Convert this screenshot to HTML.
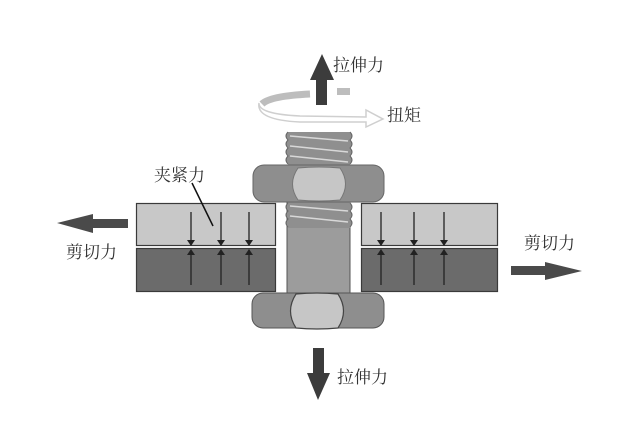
<!DOCTYPE html>
<html><head><meta charset="utf-8"><style>
html,body{margin:0;padding:0;background:#fff;}
svg{display:block;}
text{font-family:"Liberation Serif","Noto Serif CJK SC",serif;fill:#333;font-size:17px;}
</style></head><body>
<svg width="640" height="448" viewBox="0 0 640 448" xmlns="http://www.w3.org/2000/svg">
<defs>
<marker id="ah" markerWidth="6" markerHeight="8" refX="5" refY="4" orient="auto" markerUnits="userSpaceOnUse">
<path d="M0,0 L6,4 L0,8 Z" fill="#222"/>
</marker>
</defs>
<rect width="640" height="448" fill="#fff"/>

<!-- torque back band -->
<path d="M262,104 Q270,96 310,94" stroke="#bdbdbd" stroke-width="7" fill="none"/>
<rect x="337" y="88" width="13" height="7" fill="#bdbdbd"/>

<!-- up arrow -->
<path d="M322,54 L334,80 L327,80 L327,105 L316,105 L316,80 L310,80 Z" fill="#3c3c3c"/>

<!-- torque front band -->
<path d="M259,103 Q258,114 300,116 L366,117 L366,110 L383,119 L366,127 L366,122 L300,122 Q256,120 259,103 Z" fill="#fff" stroke="#cfcfcf" stroke-width="1.5"/>

<!-- threads top -->
<rect x="288" y="132" width="62" height="34" fill="#8f8f8f"/>
<path d="M288,132 q-4,4 0,8 q-4,4 0,8 q-4,4 0,8 q-4,4 0,8" stroke="#666" fill="#8f8f8f"/>
<path d="M350,132 q4,4 0,8 q4,4 0,8 q4,4 0,8 q4,4 0,8" stroke="#666" fill="#8f8f8f"/>
<g stroke="#d8d8d8" stroke-width="1.5">
<line x1="290" y1="136" x2="348" y2="141"/>
<line x1="290" y1="146" x2="348" y2="152"/>
<line x1="290" y1="156" x2="348" y2="162"/>
</g>

<!-- shank -->
<rect x="287" y="200" width="63" height="95" fill="#9c9c9c" stroke="#555" stroke-width="1"/>
<rect x="288" y="202" width="62" height="26" fill="#8f8f8f"/>
<path d="M288,203 q-4,4 0,8 q-4,4 0,8 q-4,4 0,8" stroke="#666" fill="#8f8f8f"/>
<path d="M350,203 q4,4 0,8 q4,4 0,8 q4,4 0,8" stroke="#666" fill="#8f8f8f"/>
<g stroke="#d8d8d8" stroke-width="1.5">
<line x1="290" y1="206" x2="348" y2="211"/>
<line x1="290" y1="216" x2="348" y2="222"/>
</g>

<!-- top nut -->
<rect x="253" y="165" width="131" height="37" rx="11" fill="#8e8e8e" stroke="#666" stroke-width="1"/>
<path d="M298,168 Q319,166 340,168 Q351,184 340,200 Q319,202 298,200 Q287,184 298,168 Z" fill="#c6c6c6" stroke="#777" stroke-width="1"/>

<!-- left plates -->
<rect x="136.5" y="203.5" width="139" height="42" fill="#c8c8c8" stroke="#3a3a3a" stroke-width="1.2"/>
<rect x="136.5" y="248.5" width="139" height="43" fill="#6b6b6b" stroke="#3a3a3a" stroke-width="1.2"/>
<!-- right plates -->
<rect x="361.5" y="203.5" width="136" height="42" fill="#c8c8c8" stroke="#3a3a3a" stroke-width="1.2"/>
<rect x="361.5" y="248.5" width="136" height="43" fill="#6b6b6b" stroke="#3a3a3a" stroke-width="1.2"/>

<!-- clamp arrows -->
<g stroke="#222" stroke-width="1.3">
<line x1="191" y1="212" x2="191" y2="245" marker-end="url(#ah)"/>
<line x1="221" y1="212" x2="221" y2="245" marker-end="url(#ah)"/>
<line x1="249" y1="212" x2="249" y2="245" marker-end="url(#ah)"/>
<line x1="191" y1="285" x2="191" y2="250" marker-end="url(#ah)"/>
<line x1="221" y1="285" x2="221" y2="250" marker-end="url(#ah)"/>
<line x1="249" y1="285" x2="249" y2="250" marker-end="url(#ah)"/>
<line x1="381" y1="212" x2="381" y2="245" marker-end="url(#ah)"/>
<line x1="414" y1="212" x2="414" y2="245" marker-end="url(#ah)"/>
<line x1="444" y1="212" x2="444" y2="245" marker-end="url(#ah)"/>
<line x1="381" y1="285" x2="381" y2="250" marker-end="url(#ah)"/>
<line x1="414" y1="285" x2="414" y2="250" marker-end="url(#ah)"/>
<line x1="444" y1="285" x2="444" y2="250" marker-end="url(#ah)"/>
</g>
<!-- leader -->
<line x1="192" y1="183" x2="213" y2="226" stroke="#111" stroke-width="1.5"/>

<!-- bottom nut -->
<rect x="252" y="293" width="132" height="35" rx="11" fill="#8e8e8e" stroke="#555" stroke-width="1"/>
<path d="M296,294 Q317,292 338,294 Q349,311 338,328 Q317,330 296,328 Q285,311 296,294 Z" fill="#c6c6c6" stroke="#444" stroke-width="1.2"/>

<!-- shear arrows -->
<path d="M57,223 L93,214 L93,219 L128,219 L128,228 L93,228 L93,233 Z" fill="#4a4a4a"/>
<path d="M582,271 L545,262 L545,266 L511,266 L511,275 L545,275 L545,280 Z" fill="#4a4a4a"/>

<!-- bottom arrow -->
<path d="M313,348 L324,348 L324,373 L330,373 L318,400 L307,373 L313,373 Z" fill="#3c3c3c"/>

<!-- labels -->
<text x="333" y="71">拉伸力</text>
<text x="387" y="121">扭矩</text>
<text x="154" y="181">夹紧力</text>
<text x="66" y="258">剪切力</text>
<text x="524" y="249">剪切力</text>
<text x="337" y="383">拉伸力</text>
</svg>
</body></html>
